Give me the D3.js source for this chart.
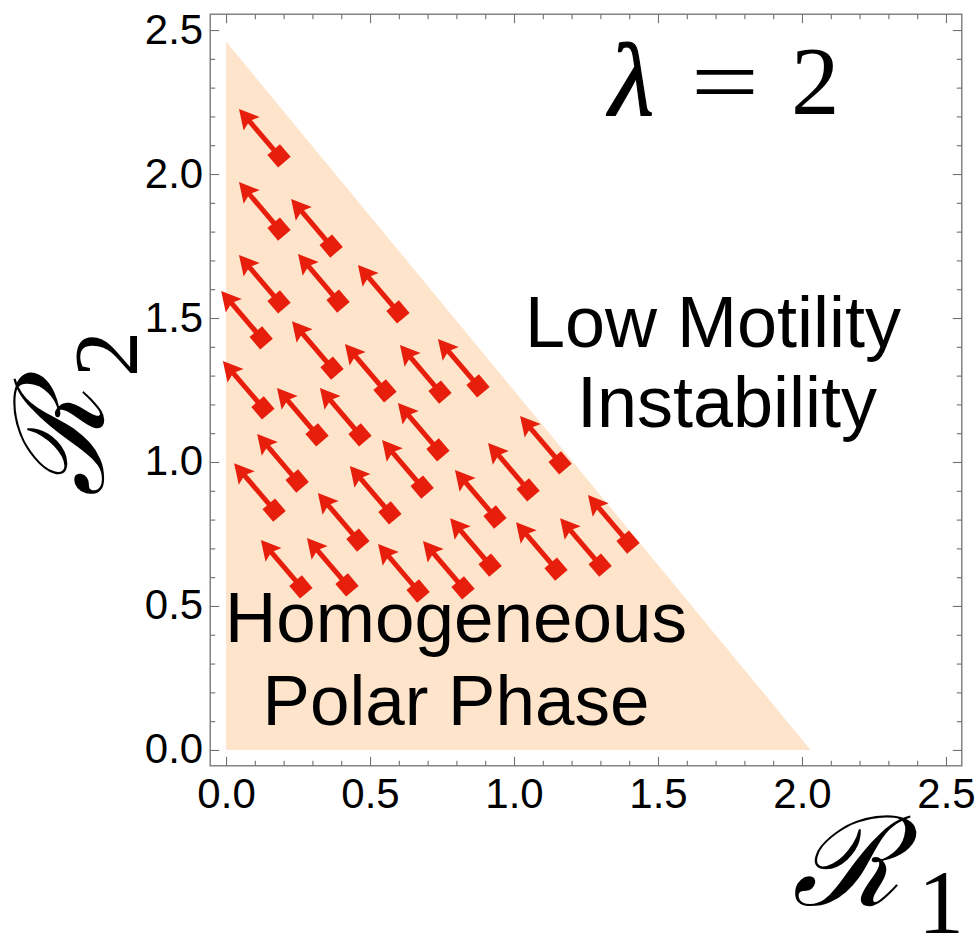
<!DOCTYPE html>
<html>
<head>
<meta charset="utf-8">
<script src="https://cdn.jsdelivr.net/npm/d3@7"></script>
<style>
  html, body { margin: 0; padding: 0; background: #ffffff; }
  svg { display: block; }
</style>
</head>
<body>
<svg id="chart" width="979" height="937"></svg>
<script>
// ---- data ----------------------------------------------------------------
// sample points (R1, R2) inside the stable region
const pointR1 = [0.184, 0.184, 0.365, 0.184, 0.389, 0.597, 0.122, 0.368, 0.552, 0.743,
                 0.875, 0.128, 0.316, 0.465, 0.736, 0.247, 0.167, 0.458, 0.569, 0.681,
                 0.934, 1.049, 1.160, 0.260, 0.420, 0.667, 0.823, 0.917, 1.146, 1.299, 1.396];
const pointR2 = [2.063, 1.809, 1.750, 1.556, 1.559, 1.521, 1.431, 1.326, 1.247, 1.243,
                 1.264, 1.188, 1.094, 1.094, 1.042, 0.934, 0.833, 0.729, 0.823, 0.913,
                 0.809, 0.903, 0.997, 0.566, 0.573, 0.552, 0.563, 0.642, 0.628, 0.642, 0.722];
// polarisation vector drawn at every point (in R1, R2 units)
const vectorR1 = -0.139;
const vectorR2 = 0.163;
// boundary of the homogeneous polar phase
const regionR1 = [0, 0, 2.03];
const regionR2 = [0, 2.46, 0];
// axis ticks
const majorTicks = [0, 0.5, 1.0, 1.5, 2.0, 2.5];
const majorLabels = ["0.0", "0.5", "1.0", "1.5", "2.0", "2.5"];
const minorTicks = [0.1, 0.2, 0.3, 0.4, 0.6, 0.7, 0.8, 0.9, 1.1, 1.2, 1.3, 1.4,
                    1.6, 1.7, 1.8, 1.9, 2.1, 2.2, 2.3, 2.4];
const stableLabel = ["Homogeneous", "Polar Phase"];
const unstableLabel = ["Low Motility", "Instability"];

// ---- layout --------------------------------------------------------------
const svg = d3.select("#chart");
const plotL = 210.2, plotR = 961.8, plotT = 14.2, plotB = 765.8;
const domain = [-0.055, 2.555];
const x = d3.scaleLinear().domain(domain).range([plotL, plotR]);
const y = d3.scaleLinear().domain(domain).range([plotB, plotT]);

const RED = "#e81e0c";
const FILL = "#fde4ca";
const FRAME = "#707070";

// stable region
const region = regionR1.map((r, i) => [x(r), y(regionR2[i])]);
svg.append("polygon")
  .attr("points", region.map(p => p.join(",")).join(" "))
  .attr("fill", FILL);

// ---- frame and ticks -------------------------------------------------------
const fmt = d => majorLabels[majorTicks.indexOf(d)];
function frameAxis(gen, tx, ty, vals, size, labels) {
  const a = gen.tickValues(vals).tickSizeInner(-size).tickSizeOuter(0)
    .tickFormat(labels ? fmt : () => "");
  const g = svg.append("g").attr("transform", `translate(${tx},${ty})`).call(a);
  g.select(".domain").remove();
  g.selectAll(".tick line").attr("stroke", FRAME).attr("stroke-width", 1.1);
  return g;
}
const gb = frameAxis(d3.axisBottom(x), 0, plotB, majorTicks, 9, true);
frameAxis(d3.axisBottom(x), 0, plotB, minorTicks, 5, false);
frameAxis(d3.axisTop(x), 0, plotT, majorTicks, 9, false);
frameAxis(d3.axisTop(x), 0, plotT, minorTicks, 5, false);
const gl = frameAxis(d3.axisLeft(y), plotL, 0, majorTicks, 9, true);
frameAxis(d3.axisLeft(y), plotL, 0, minorTicks, 5, false);
frameAxis(d3.axisRight(y), plotR, 0, majorTicks, 9, false);
frameAxis(d3.axisRight(y), plotR, 0, minorTicks, 5, false);

gb.selectAll(".tick text")
  .attr("font-family", "'Liberation Sans', Arial, sans-serif")
  .attr("font-size", 42).attr("fill", "#000")
  .attr("dy", null).attr("y", 42);
gl.selectAll(".tick text")
  .attr("font-family", "'Liberation Sans', Arial, sans-serif")
  .attr("font-size", 42).attr("fill", "#000")
  .attr("dy", null).attr("x", -7).attr("y", 13);

svg.append("rect")
  .attr("x", plotL).attr("y", plotT)
  .attr("width", plotR - plotL).attr("height", plotB - plotT)
  .attr("fill", "none").attr("stroke", FRAME).attr("stroke-width", 1.3);

// ---- arrows ----------------------------------------------------------------
const headLen = 19.5, headHalf = 10.5, notch = 3.5, shaftW = 5, sq = 16.5;
const arrows = svg.append("g");
pointR1.forEach((r1, i) => {
  const r2 = pointR2[i];
  const x0 = x(r1), y0 = y(r2);
  const x1 = x(r1 + vectorR1), y1 = y(r2 + vectorR2);
  const len = Math.hypot(x1 - x0, y1 - y0);
  const ang = Math.atan2(y1 - y0, x1 - x0) * 180 / Math.PI;
  const g = arrows.append("g").attr("transform", `translate(${x0},${y0}) rotate(${ang})`);
  g.append("rect")
    .attr("x", 0).attr("y", -shaftW / 2)
    .attr("width", len - headLen + notch + 1).attr("height", shaftW)
    .attr("fill", RED);
  g.append("path")
    .attr("d", `M${len},0 L${len - headLen},${-headHalf} L${len - headLen + notch},0 L${len - headLen},${headHalf} Z`)
    .attr("fill", RED);
  g.append("rect")
    .attr("x", -sq / 2).attr("y", -sq / 2)
    .attr("width", sq).attr("height", sq)
    .attr("fill", RED);
});

// ---- region labels -----------------------------------------------------------
const sans = "'Liberation Sans', Arial, Helvetica, sans-serif";
svg.append("text").attr("x", 456).attr("y", 642).attr("text-anchor", "middle")
  .attr("font-family", sans).attr("font-size", 71).text(stableLabel[0]);
svg.append("text").attr("x", 456).attr("y", 725).attr("text-anchor", "middle")
  .attr("font-family", sans).attr("font-size", 71).text(stableLabel[1]);
svg.append("text").attr("x", 713).attr("y", 347).attr("text-anchor", "middle")
  .attr("font-family", sans).attr("font-size", 72).text(unstableLabel[0]);
svg.append("text").attr("x", 727).attr("y", 427).attr("text-anchor", "middle")
  .attr("font-family", sans).attr("font-size", 72).text(unstableLabel[1]);

// ---- parameter label ---------------------------------------------------------
const serif = "'Liberation Serif', 'Times New Roman', serif";
const lam = svg.append("g").attr("font-family", serif).attr("font-size", 97);
lam.append("text").attr("x", 609).attr("y", 115).attr("font-size", 104)
  .attr("font-style", "italic").attr("stroke", "#000").attr("stroke-width", 1.2).text("λ");
lam.append("text").attr("x", 725).attr("y", 114).attr("text-anchor", "middle")
  .attr("transform", "translate(725,0) scale(1.25,1) translate(-725,0)").text("=");
lam.append("text").attr("x", 791).attr("y", 114).text("2");

// ---- axis titles -------------------------------------------------------------
const script = "'DejaVu Serif', serif";
const xt = svg.append("g").attr("transform", "translate(792,905)");
xt.append("text").attr("font-family", script).attr("font-style", "italic")
  .attr("font-size", 124).text("ℛ");
xt.append("text").attr("x", 126).attr("y", 28).attr("font-family", serif)
  .attr("font-size", 92).text("1");

const yt = svg.append("g").attr("transform", "translate(103,497) rotate(-90)");
yt.append("text").attr("font-family", script).attr("font-style", "italic")
  .attr("font-size", 124).text("ℛ");
yt.append("text").attr("x", 120).attr("y", 34).attr("font-family", serif)
  .attr("font-size", 92).text("2");
</script>
</body>
</html>
